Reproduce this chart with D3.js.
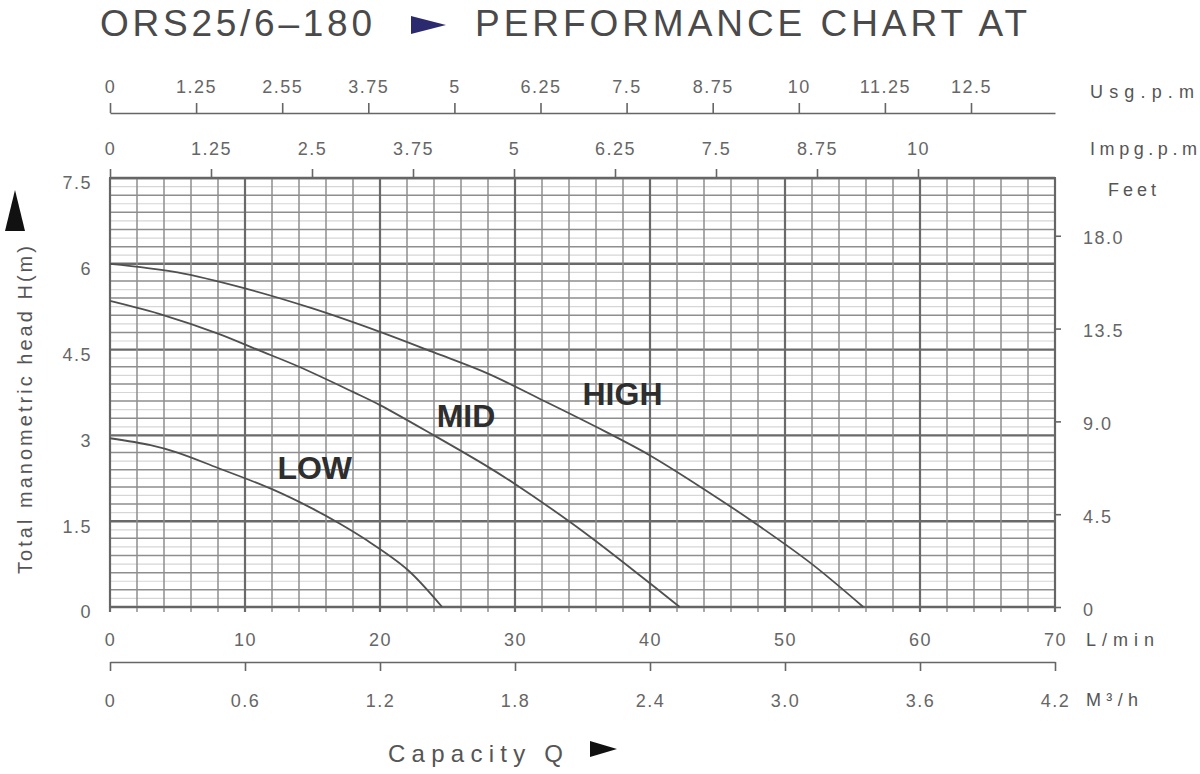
<!DOCTYPE html>
<html lang="en">
<head>
<meta charset="utf-8">
<title>ORS25/6-180 performance chart</title>
<script src="https://cdn.jsdelivr.net/npm/d3@7"></script>
<style>
body { margin: 0; background: #fff; }
svg text { font-family: "Liberation Sans", Arial, sans-serif; }
.axis path, .axis line { stroke: #666; stroke-width: 1.6px; }
.axis text { font-size: 18px; fill: #666; letter-spacing: 1.5px; }
</style>
</head>
<body>
<script>
var w = 1200, h = 774;

// flow ticks (L/min) and m3/h ticks
var lpmTicks = [0, 10, 20, 30, 40, 50, 60, 70];
var m3hTicks = [0, 0.6, 1.2, 1.8, 2.4, 3.0, 3.6, 4.2];
var m3hLabels = ["0", "0.6", "1.2", "1.8", "2.4", "3.0", "3.6", "4.2"];
// top scales (printed "2.55" kept as in the original)
var usgTicks = [0, 1.25, 2.5, 3.75, 5, 6.25, 7.5, 8.75, 10, 11.25, 12.5];
var usgLabels = ["0", "1.25", "2.55", "3.75", "5", "6.25", "7.5", "8.75", "10", "11.25", "12.5"];
var impTicks = [0, 1.25, 2.5, 3.75, 5, 6.25, 7.5, 8.75, 10];
var impLabels = ["0", "1.25", "2.5", "3.75", "5", "6.25", "7.5", "8.75", "10"];
// head ticks
var headTicks = [0, 1.5, 3, 4.5, 6, 7.5];
var feetTicks = [0, 4.5, 9, 13.5, 18];
var feetLabels = ["0", "4.5", "9.0", "13.5", "18.0"];

// pump curves [Q L/min, H m]
var highCurve = [[0, 6.0], [5, 5.85], [10, 5.57], [15, 5.22], [20, 4.81], [24, 4.45], [28, 4.08],
                 [32, 3.62], [36, 3.15], [40, 2.65], [44, 2.06], [48, 1.43], [52, 0.75], [55.8, 0]];
var midCurve = [[0, 5.35], [4, 5.1], [8, 4.78], [11, 4.49], [14, 4.2], [18, 3.76], [20, 3.53],
                [24, 3.0], [28, 2.45], [30, 2.15], [34, 1.5], [36, 1.15], [39, 0.6], [42.2, 0]];
var lowCurve = [[0, 2.95], [3, 2.83], [5, 2.7], [8, 2.43], [12, 2.06], [15, 1.72], [17, 1.46],
                [19, 1.17], [22, 0.66], [24.6, 0]];
var curveNames = ["LOW", "MID", "HIGH"];
var nameAt = [[12.4, 2.24], [24.2, 3.15], [35.0, 3.53]];

var x = d3.scaleLinear().domain([0, 70]).range([110, 1055]);
var y = d3.scaleLinear().domain([0, 7.5]).range([607, 178]);
var usg = d3.scaleLinear().domain([0, 12.5 * 945 / 861]).range([110, 1055]);
var imp = d3.scaleLinear().domain([0, 10 * 945 / 808]).range([110, 1055]);
var m3h = d3.scaleLinear().domain([0, 4.2]).range([110, 1055]);
var feet = d3.scaleLinear().domain([0, 20.8]).range([607, 178]);

var svg = d3.select("body").append("svg")
    .attr("width", w)
    .attr("height", h);

// grid
var grid = svg.append("g");
var hMinor = d3.range(25).map(function(i) { return i * 0.3 + 0.15; });
var hLines = d3.range(26).map(function(i) { return +(i * 0.3).toFixed(2); });
var vLines = d3.range(0, 71, 2);

function isMajorH(d) {
  var r = d % 1.5;
  return r < 0.01 || r > 1.49;
}

grid.selectAll("line.faint")
    .data(hMinor)
    .enter().append("line")
    .attr("class", "faint")
    .attr("x1", x(0)).attr("x2", x(70))
    .attr("y1", function(d) { return y(d); })
    .attr("y2", function(d) { return y(d); })
    .attr("stroke", "#d6d6d6")
    .attr("stroke-width", 1.2);

grid.selectAll("line.h")
    .data(hLines)
    .enter().append("line")
    .attr("class", "h")
    .attr("x1", x(0)).attr("x2", x(70))
    .attr("y1", function(d) { return y(d); })
    .attr("y2", function(d) { return y(d); })
    .attr("stroke", function(d) { return isMajorH(d) ? "#6a6a6a" : "#8e8e8e"; })
    .attr("stroke-width", function(d) { return isMajorH(d) ? 2.4 : 1.5; });

grid.selectAll("line.v")
    .data(vLines)
    .enter().append("line")
    .attr("class", "v")
    .attr("x1", function(d) { return x(d); })
    .attr("x2", function(d) { return x(d); })
    .attr("y1", y(7.5)).attr("y2", y(0) + 5)
    .attr("stroke", function(d) { return d % 10 === 0 ? "#6a6a6a" : "#8e8e8e"; })
    .attr("stroke-width", function(d) { return d % 10 === 0 ? 2.2 : 1.5; });

grid.append("rect")
    .attr("x", x(0)).attr("y", y(7.5))
    .attr("width", x(70) - x(0)).attr("height", y(0) - y(7.5))
    .attr("fill", "none")
    .attr("stroke", "#666")
    .attr("stroke-width", 2);

// curves
var line = d3.line()
    .x(function(d) { return x(d[0]); })
    .y(function(d) { return y(d[1]); })
    .curve(d3.curveCatmullRom.alpha(0.5));

svg.selectAll("path.curve")
    .data([lowCurve, midCurve, highCurve])
    .enter().append("path")
    .attr("class", "curve")
    .attr("d", line)
    .attr("fill", "none")
    .attr("stroke", "#505050")
    .attr("stroke-width", 1.8);

svg.selectAll("text.name")
    .data(curveNames)
    .enter().append("text")
    .attr("class", "name")
    .attr("x", function(d, i) { return x(nameAt[i][0]); })
    .attr("y", function(d, i) { return y(nameAt[i][1]); })
    .attr("font-size", "32px")
    .attr("font-weight", "bold")
    .attr("fill", "#2e2e2e")
    .text(function(d) { return d; });

// axes
var usgAxis = d3.axisTop(usg)
    .tickValues(usgTicks)
    .tickFormat(function(d, i) { return usgLabels[i]; })
    .tickSize(10).tickSizeOuter(0).tickPadding(10);
svg.append("g").attr("class", "axis")
    .attr("transform", "translate(0,113)")
    .call(usgAxis);

var impAxis = d3.axisTop(imp)
    .tickValues(impTicks)
    .tickFormat(function(d, i) { return impLabels[i]; })
    .tickSize(9).tickSizeOuter(0).tickPadding(14);
svg.append("g").attr("class", "axis")
    .attr("transform", "translate(0," + y(7.5) + ")")
    .call(impAxis);

var lpmAxis = d3.axisBottom(x)
    .tickValues(lpmTicks)
    .tickSize(0).tickPadding(26);
svg.append("g").attr("class", "axis")
    .attr("transform", "translate(0," + y(0) + ")")
    .call(lpmAxis)
    .select(".domain").remove();

var m3hAxis = d3.axisBottom(m3h)
    .tickValues(m3hTicks)
    .tickFormat(function(d, i) { return m3hLabels[i]; })
    .tickSize(9).tickSizeOuter(0).tickPadding(23);
svg.append("g").attr("class", "axis")
    .attr("transform", "translate(0,662)")
    .call(m3hAxis);

var headAxis = d3.axisLeft(y)
    .tickValues(headTicks)
    .tickFormat(function(d) { return d; })
    .tickSize(0).tickPadding(18);
var gHead = svg.append("g").attr("class", "axis")
    .attr("transform", "translate(" + x(0) + ",0)")
    .call(headAxis);
gHead.select(".domain").remove();
gHead.selectAll("text").attr("dy", "0.6em");

var feetAxis = d3.axisRight(feet)
    .tickValues(feetTicks)
    .tickFormat(function(d, i) { return feetLabels[i]; })
    .tickSize(6).tickPadding(22);
var gFeet = svg.append("g").attr("class", "axis")
    .attr("transform", "translate(" + x(70) + ",0)")
    .call(feetAxis);
gFeet.select(".domain").remove();
gFeet.selectAll("text").attr("dy", "0.45em");

// unit labels
var units = svg.append("g")
    .attr("font-size", "18px")
    .attr("fill", "#555");
units.append("text").attr("x", 1090).attr("y", 98).attr("textLength", 104).text("Usg.p.m");
units.append("text").attr("x", 1090).attr("y", 155).attr("textLength", 107).text("Impg.p.m");
units.append("text").attr("x", 1108).attr("y", 196).attr("textLength", 48).text("Feet");
units.append("text").attr("x", 1086).attr("y", 646).attr("textLength", 68).text("L/min");
units.append("text").attr("x", 1086).attr("y", 706).attr("textLength", 52).text("M³/h");

// title
svg.append("text")
    .attr("x", 100).attr("y", 36)
    .attr("font-size", "37px")
    .attr("fill", "#4a4a4a")
    .attr("textLength", 272)
    .text("ORS25/6–180");
svg.append("path")
    .attr("d", "M411,16 L446,25 L411,34 Z")
    .attr("fill", "#2b2a6e");
svg.append("text")
    .attr("x", 475).attr("y", 36)
    .attr("font-size", "37px")
    .attr("fill", "#4a4a4a")
    .attr("textLength", 552)
    .text("PERFORMANCE CHART AT");

// y title
svg.append("path")
    .attr("d", "M5,231 L25,231 L15,190 Z")
    .attr("fill", "#111");
svg.append("text")
    .attr("transform", "translate(32,574) rotate(-90)")
    .attr("font-size", "20px")
    .attr("fill", "#555")
    .attr("textLength", 328)
    .text("Total manometric head H(m)");

// x title
svg.append("text")
    .attr("x", 388).attr("y", 762)
    .attr("font-size", "24px")
    .attr("fill", "#555")
    .attr("textLength", 175)
    .text("Capacity  Q");
svg.append("path")
    .attr("d", "M590,741 L617,749 L590,757 Z")
    .attr("fill", "#111");
</script>
</body>
</html>
